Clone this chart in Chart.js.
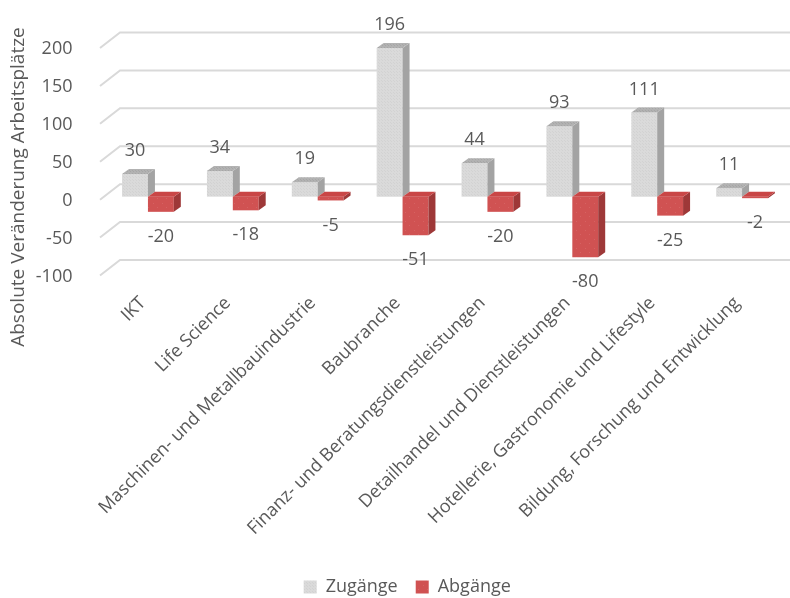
<!DOCTYPE html>
<html>
<head>
<meta charset="utf-8">
<script src="https://cdn.jsdelivr.net/npm/chart.js@4.4.1/dist/chart.umd.min.js"></script>
<style>
  html, body { margin: 0; padding: 0; background: #fff; }
</style>
</head>
<body>
<canvas id="myChart" width="790" height="598"></canvas>
<script>
const branchen = [
  'IKT',
  'Life Science',
  'Maschinen- und Metallbauindustrie',
  'Baubranche',
  'Finanz- und Beratungsdienstleistungen',
  'Detailhandel und Dienstleistungen',
  'Hotellerie, Gastronomie und Lifestyle',
  'Bildung, Forschung und Entwicklung'
]
const zugaenge = [30, 34, 19, 196, 44, 93, 111, 11]
const abgaenge = [-20, -18, -5, -51, -20, -80, -25, -2]
const yTicks = [-100, -50, 0, 50, 100, 150, 200]
const yTitle = 'Absolute Veränderung Arbeitsplätze'

const textColor = '#595959'
const fontName = 'Open Sans'

// 3d look
const DX = 7, DY = -5          // depth of the boxes
const BAR_SHIFT = -4           // boxes sit a bit higher than the front labels
const WALL_DX = 20, WALL_DY = -16.5
const PAD_BOTTOM = -8

// small dotted texture like the excel fill
const makePattern = (base, dot, step) => {
  const c = document.createElement('canvas')
  c.width = step; c.height = step
  const g = c.getContext('2d')
  g.fillStyle = base
  g.fillRect(0, 0, step, step)
  g.fillStyle = dot
  g.fillRect(0, 0, 1, 1)
  if (step > 2) g.fillRect(Math.floor(step / 2), Math.floor(step / 2), 1, 1)
  return g.createPattern(c, 'repeat')
}

const greyFront = makePattern('#dadada', '#d2d2d2', 3)
const greySide = '#a3a3a3'
const greyTop = makePattern('#b2b2b2', '#a6a6a6', 3)
const redFront = makePattern('#d05252', '#d66262', 9)
const redSide = '#9e3838'
const redTop = '#c94646'

const faces = [
  {front: greyFront, side: greySide, top: greyTop},
  {front: redFront, side: redSide, top: redTop}
]

const poly = (ctx, pts, fill) => {
  ctx.beginPath()
  ctx.moveTo(pts[0][0], pts[0][1])
  for (let i = 1; i < pts.length; i++) ctx.lineTo(pts[i][0], pts[i][1])
  ctx.closePath()
  ctx.fillStyle = fill
  ctx.fill()
}

const wallPlugin = {
  id: 'wall',
  beforeDatasetsDraw(chart) {
    const {ctx, chartArea, scales: {y}} = chart
    ctx.save()
    ctx.strokeStyle = '#d9d9d9'
    ctx.lineWidth = 2
    for (const v of yTicks) {
      const yf = y.getPixelForValue(v)
      const x0 = chartArea.left - 5.5
      const x1 = chartArea.left - 5.5 + WALL_DX
      ctx.beginPath()
      ctx.moveTo(x0, yf - 1)
      ctx.lineTo(x1, yf + WALL_DY)
      ctx.lineTo(chart.width, yf + WALL_DY)
      ctx.stroke()
    }
    ctx.restore()
  }
}

const boxPlugin = {
  id: 'boxes',
  beforeDatasetDraw() {
    return false // boxes are drawn below, in our own order
  },
  afterDatasetsDraw(chart) {
    const {ctx} = chart
    ctx.save()
    ctx.translate(0, BAR_SHIFT)
    for (let i = 0; i < branchen.length; i++) {
      chart.data.datasets.forEach((ds, d) => {
        const el = chart.getDatasetMeta(d).data[i]
        const {x, y, base, width} = el.getProps(['x', 'y', 'base', 'width'], true)
        const l = x - width / 2, r = x + width / 2
        const t = Math.min(y, base), b = Math.max(y, base)
        const f = faces[d]
        poly(ctx, [[l, t], [r, t], [r, b], [l, b]], f.front)
        poly(ctx, [[r, t], [r + DX, t + DY], [r + DX, b + DY], [r, b]], f.side)
        poly(ctx, [[l, t], [l + DX, t + DY], [r + DX, t + DY], [r, t]], f.top)
      })
    }
    // value labels
    ctx.fillStyle = textColor
    ctx.font = '18px "' + fontName + '"'
    ctx.textAlign = 'center'
    ctx.textBaseline = 'middle'
    chart.data.datasets.forEach((ds, d) => {
      chart.getDatasetMeta(d).data.forEach((el, i) => {
        const v = ds.data[i]
        const {x, y} = el.getProps(['x', 'y'], true)
        ctx.fillText(String(v), x, v >= 0 ? y - 23 : y + 25)
      })
    })
    ctx.restore()

    // y axis title
    ctx.save()
    ctx.fillStyle = textColor
    ctx.font = '19px "' + fontName + '"'
    ctx.textAlign = 'center'
    ctx.textBaseline = 'middle'
    ctx.translate(19, chart.chartArea.top + 138)
    ctx.rotate(-Math.PI / 2)
    ctx.fillText(yTitle, 0, 0)
    ctx.restore()
  }
}

Chart.defaults.font.family = fontName
Chart.defaults.color = textColor

const chart = new Chart('myChart', {
  type: 'bar',
  data: {
    labels: branchen,
    datasets: [
      {label: 'Zugänge', data: zugaenge, backgroundColor: greyFront, borderWidth: 0},
      {label: 'Abgänge', data: abgaenge, backgroundColor: redFront, borderWidth: 0}
    ]
  },
  options: {
    responsive: false,
    animation: false,
    devicePixelRatio: 1,
    categoryPercentage: 0.61,
    barPercentage: 1,
    layout: {padding: {top: 49, left: 30, right: 5.5, bottom: PAD_BOTTOM}},
    plugins: {
      legend: {
        position: 'bottom',
        labels: {boxWidth: 13, boxHeight: 13, padding: 18, color: textColor, font: {size: 18}}
      },
      tooltip: {enabled: false}
    },
    scales: {
      x: {
        grid: {display: false},
        border: {display: false},
        ticks: {minRotation: 45, maxRotation: 45, autoSkip: false, padding: 8, labelOffset: -5, color: textColor, font: {size: 18}},
        afterFit: (s) => { s.height = 598 - 276.5 - s.chart.legend.height - PAD_BOTTOM }
      },
      y: {
        min: -100,
        max: 200,
        afterBuildTicks: (s) => { s.ticks = yTicks.map(v => ({value: v})) },
        grid: {display: false},
        border: {display: false},
        ticks: {padding: 25, color: textColor, font: {size: 18}},
        afterFit: (s) => { s.width = 75.5 }
      }
    }
  },
  plugins: [wallPlugin, boxPlugin]
})
</script>
</body>
</html>
